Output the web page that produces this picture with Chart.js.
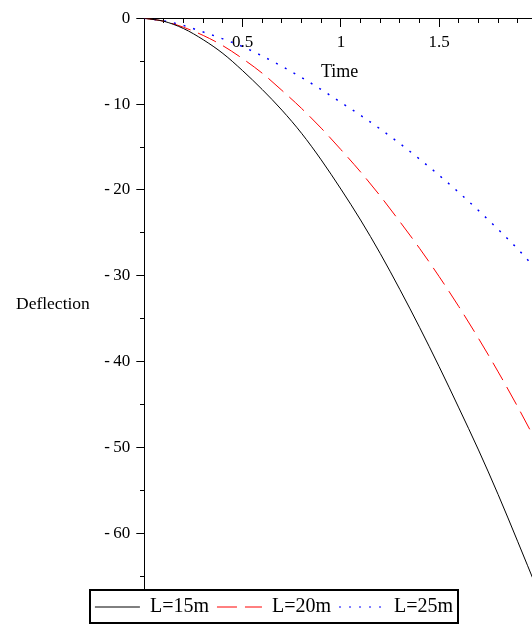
<!DOCTYPE html>
<html>
<head>
<meta charset="utf-8">
<title>Deflection vs Time</title>
<script src="https://cdn.jsdelivr.net/npm/chart.js@4.4.1/dist/chart.umd.min.js"></script>
<style>
  html, body { margin: 0; padding: 0; background: #fff; overflow: hidden; }
  /* canvas is a bit larger than the window: the x axis runs on past t=2 like the cropped original */
  #wrap { position: absolute; left: 0; top: 0; width: 548px; height: 627px; }
  .axis-title { position: absolute; font-family: "Liberation Serif", "Times New Roman", serif; color: #000; white-space: nowrap; line-height: 1; }
  #x-title { left: 321px; top: 62px; font-size: 18px; }
  #y-title { left: 16px; top: 295px; font-size: 17.5px; }
</style>
</head>
<body>
<div id="wrap"><canvas id="chart"></canvas></div>
<div class="axis-title" id="x-title">Time</div>
<div class="axis-title" id="y-title">Deflection</div>

<script>
// --- DATA ---
const TIME = [0, 0.1, 0.2, 0.3, 0.4, 0.5, 0.6, 0.7, 0.8, 0.9, 1.0,
              1.1, 1.2, 1.3, 1.4, 1.5, 1.6, 1.7, 1.8, 1.9, 2.0];

const DEFL_L15 = [0, -0.35, -1.2, -2.5, -4.1, -6.1, -8.3, -10.7, -13.4, -16.5, -19.9,
                  -23.5, -27.4, -31.6, -36.0, -40.6, -45.4, -50.3, -55.5, -61.0, -66.6];
const DEFL_L20 = [0, -0.35, -1.05, -2.0, -3.2, -4.7, -6.4, -8.4, -10.5, -12.8, -15.3,
                  -17.9, -20.7, -23.7, -26.8, -30.1, -33.6, -37.3, -41.2, -45.3, -49.6];
const DEFL_L25 = [0, -0.3, -0.85, -1.6, -2.4, -3.3, -4.4, -5.6, -6.9, -8.3, -9.8,
                  -11.3, -12.9, -14.6, -16.4, -18.3, -20.3, -22.4, -24.6, -26.9, -29.4];

const SERIES_LABELS = ['L=15m', 'L=20m', 'L=25m'];

const X_TICKS = [0.5, 1, 1.5, 2];
const Y_TICKS = [-60, -50, -40, -30, -20, -10, 0];
const X_RANGE = [0, 2.0535];   // right edge of the picture cuts just before t=2
const Y_RANGE = [-66.5, 0];

const FONT = 'Liberation Serif';

// --- HELPERS ---
function toPoints(values) {
    return values.map((v, i) => ({ x: TIME[i], y: v }));
}

function fixedTicks(list) {
    return scale => { scale.ticks = list.map(v => ({ value: v })); };
}

// box round the legend, like the maple output
const legendFrame = {
    id: 'legendFrame',
    afterDraw(chart) {
        const lg = chart.legend;
        if (!lg || !lg.legendHitBoxes || !lg.legendHitBoxes.length) return;
        const boxes = lg.legendHitBoxes;
        const first = boxes[0];
        const last = boxes[boxes.length - 1];
        const left = Math.round(first.left - 4.5);
        const right = Math.round(last.left + last.width + 4.5);
        const ctx = chart.ctx;
        ctx.save();
        ctx.strokeStyle = '#000';
        ctx.lineWidth = 2;
        ctx.setLineDash([]);
        ctx.strokeRect(left, Math.round(lg.top + 1), right - left, 33);
        ctx.restore();
    }
};

// --- CHART ---
const ctx = document.getElementById('chart').getContext('2d');

new Chart(ctx, {
    type: 'line',
    data: {
        datasets: [
            { label: SERIES_LABELS[0], data: toPoints(DEFL_L15), borderColor: '#000000', borderWidth: 1, borderDash: [] },
            { label: SERIES_LABELS[1], data: toPoints(DEFL_L20), borderColor: '#ff0000', borderWidth: 1, borderDash: [20, 8] },
            { label: SERIES_LABELS[2], data: toPoints(DEFL_L25), borderColor: '#0000ff', borderWidth: 1.5, borderDash: [2, 8] }
        ]
    },
    options: {
        responsive: true,
        maintainAspectRatio: false,
        animation: false,
        layout: { padding: { top: 18.3, left: 0, right: 0, bottom: 0 } },
        elements: {
            point: { radius: 0 },
            line: { cubicInterpolationMode: 'monotone', fill: false }
        },
        plugins: {
            tooltip: { enabled: false },
            legend: {
                position: 'bottom',
                labels: {
                    usePointStyle: true,
                    pointStyle: 'line',
                    pointStyleWidth: 45,
                    boxHeight: 10,
                    padding: 8,
                    color: '#000',
                    font: { family: FONT, size: 20 },
                    generateLabels(chart) {
                        const items = Chart.defaults.plugins.legend.labels.generateLabels(chart);
                        items.forEach(it => {
                            const ds = chart.data.datasets[it.datasetIndex];
                            it.lineDash = ds.borderDash;
                            it.strokeStyle = ds.borderColor;
                            it.lineWidth = 1;
                        });
                        return items;
                    }
                }
            }
        },
        scales: {
            x: {
                type: 'linear',
                position: { y: 0 },
                min: X_RANGE[0],
                max: X_RANGE[1],
                afterBuildTicks: fixedTicks(X_TICKS),
                grid: { drawOnChartArea: false, tickLength: 8, tickColor: '#000', color: '#000' },
                border: { display: true, color: '#000', width: 1 },
                ticks: {
                    color: '#000',
                    padding: 6,
                    font: { family: FONT, size: 17 },
                    callback: v => String(v)
                }
            },
            // minor ticks, every 0.1
            x2: {
                type: 'linear',
                axis: 'x',
                position: { y: 0 },
                min: X_RANGE[0],
                max: X_RANGE[1],
                grid: { drawOnChartArea: false, tickLength: 5, tickColor: '#000' },
                border: { display: false },
                ticks: { display: false, stepSize: 0.1, includeBounds: false }
            },
            y: {
                type: 'linear',
                position: 'left',
                min: Y_RANGE[0],
                max: Y_RANGE[1],
                afterFit: scale => { scale.width = 144.3; },
                afterBuildTicks: fixedTicks(Y_TICKS),
                grid: { drawOnChartArea: false, tickLength: 8, tickColor: '#000', color: '#000' },
                border: { display: true, color: '#000', width: 1 },
                ticks: {
                    color: '#000',
                    padding: 6,
                    font: { family: FONT, size: 17 },
                    callback: v => (v < 0 ? '-\u2009' + Math.abs(v) : String(v))
                }
            },
            // minor ticks, every 5
            y2: {
                type: 'linear',
                axis: 'y',
                position: { x: 0 },
                min: Y_RANGE[0],
                max: Y_RANGE[1],
                grid: { drawOnChartArea: false, tickLength: 4, tickColor: '#000' },
                border: { display: false },
                ticks: { display: false, stepSize: 5, includeBounds: false }
            }
        }
    },
    plugins: [legendFrame]
});
</script>
</body>
</html>
